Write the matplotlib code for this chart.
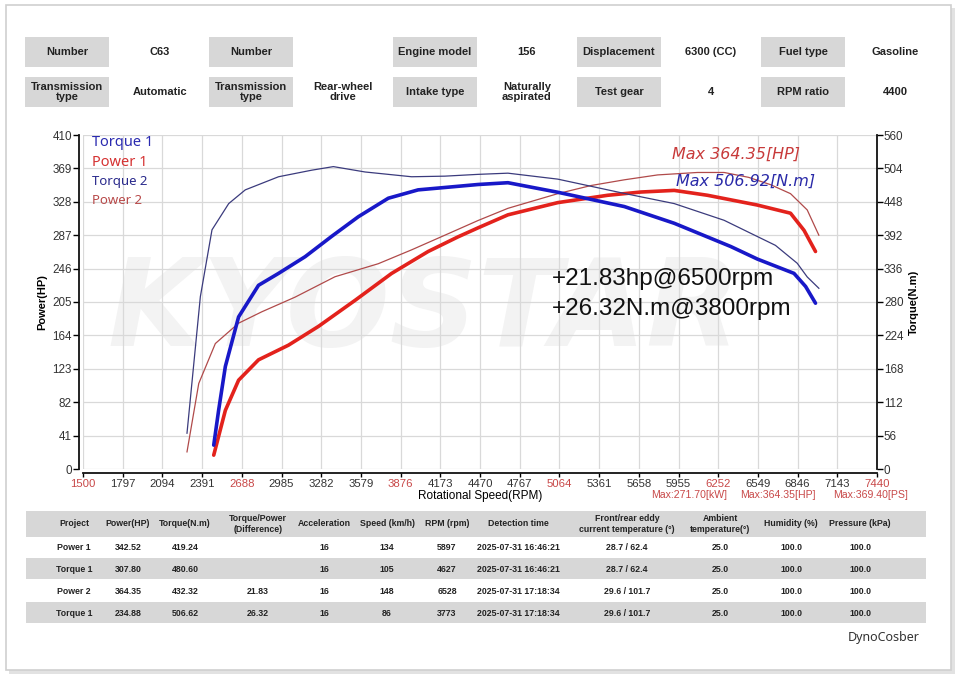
import matplotlib
matplotlib.use("Agg")
import matplotlib.pyplot as plt
from matplotlib.patches import Rectangle
import numpy as np

# ---- curve data ----
torque1_rpm = [2478, 2515, 2565, 2664, 2813, 2963, 3162, 3360, 3560, 3784, 4007, 4207,
               4455, 4679, 5052, 5550, 5923, 6346, 6545, 6819, 6906, 6980]
torque1_nm = [40, 99, 172, 255, 308, 328, 356, 390, 423, 454, 468, 472,
              477, 480, 464, 440, 412, 373, 352, 328, 306, 278]

power1_rpm = [2478, 2565, 2664, 2813, 3037, 3261, 3535, 3808, 4082, 4306, 4455, 4679,
              5052, 5425, 5674, 5923, 6172, 6545, 6793, 6894, 6980]
power1_hp = [17, 72, 109, 134, 152, 175, 207, 240, 267, 285, 296, 312,
             327, 336, 340, 342, 336, 324, 314, 293, 267]

torque2_rpm = [2278, 2378, 2465, 2590, 2714, 2963, 3211, 3373, 3610, 3958, 4207, 4455,
               4679, 5052, 5550, 5923, 6296, 6680, 6843, 6918, 7005]
torque2_nm = [60, 289, 401, 445, 468, 490, 501, 507, 498, 490, 491, 494,
              496, 486, 462, 445, 417, 375, 345, 322, 303]

power2_rpm = [2278, 2366, 2490, 2664, 2838, 3087, 3385, 3709, 3958, 4207, 4455, 4679,
              5052, 5301, 5550, 5799, 6097, 6296, 6480, 6644, 6793, 6918, 7005]
power2_hp = [21, 105, 154, 179, 193, 211, 236, 252, 269, 287, 305, 320,
             338, 348, 355, 361, 364, 364, 358, 349, 338, 318, 287]

x_ticks = [1500 + 297 * i for i in range(21)]
hp_ticks = [41 * i for i in range(11)]
nm_ticks = [56 * i for i in range(11)]

# ---- header info ----
head_keys = [["Number", "Number", "Engine model", "Displacement", "Fuel type"],
             ["Transmission\ntype", "Transmission\ntype", "Intake type", "Test gear", "RPM ratio"]]
head_vals = [["C63", "", "156", "6300 (CC)", "Gasoline"],
             ["Automatic", "Rear-wheel\ndrive", "Naturally\naspirated", "4", "4400"]]

# ---- result table ----
tbl_cols = ["Project", "Power(HP)", "Torque(N.m)", "Torque/Power\n(Difference)", "Acceleration",
            "Speed (km/h)", "RPM (rpm)", "Detection time", "Front/rear eddy\ncurrent temperature (°)",
            "Ambient\ntemperature(°)", "Humidity (%)", "Pressure (kPa)"]
tbl_rows = [
    ["Power 1", "342.52", "419.24", "", "16", "134", "5897", "2025-07-31 16:46:21", "28.7 / 62.4", "25.0", "100.0", "100.0"],
    ["Torque 1", "307.80", "480.60", "", "16", "105", "4627", "2025-07-31 16:46:21", "28.7 / 62.4", "25.0", "100.0", "100.0"],
    ["Power 2", "364.35", "432.32", "21.83", "16", "148", "6528", "2025-07-31 17:18:34", "29.6 / 101.7", "25.0", "100.0", "100.0"],
    ["Torque 1", "234.88", "506.62", "26.32", "16", "86", "3773", "2025-07-31 17:18:34", "29.6 / 101.7", "25.0", "100.0", "100.0"],
]
max_notes = ["Max:271.70[kW]", "Max:364.35[HP]", "Max:369.40[PS]"]

W, H = 960, 679
fig = plt.figure(figsize=(W / 100, H / 100), dpi=100)
fig.patch.set_facecolor("white")


def fx(x):
    return x / W


def fy(y):
    return 1 - y / H


def box(x0, y0, x1, y1, color, z=0, **kw):
    fig.patches.append(Rectangle((fx(x0), fy(y1)), fx(x1) - fx(x0), fy(y0) - fy(y1),
                                 transform=fig.transFigure, facecolor=color, zorder=z, **kw))


# card frame with a soft shadow
box(9, 8, 955, 674, "#e2e2e2", z=-3, edgecolor="none")
box(6, 5, 951, 670, "white", z=-2, edgecolor="#cfcfcf", linewidth=1.2)

# header boxes
bold = dict(family="Liberation Sans", fontweight="bold", fontsize=8, color="#222222",
            ha="center", va="center", linespacing=1.1)
key_x = [25, 209, 393, 577, 761]
val_x = [160, 343, 527, 711, 895]
row_y = [(37, 67), (77, 107)]
for r in range(2):
    y0, y1 = row_y[r]
    for c in range(5):
        box(key_x[c], y0, key_x[c] + 84, y1, "#d7d7d7")
        fig.text(fx(key_x[c] + 42), fy((y0 + y1) / 2), head_keys[r][c], **bold)
        fig.text(fx(val_x[c]), fy((y0 + y1) / 2), head_vals[r][c], **bold)

# main chart
ax = fig.add_axes([fx(83), fy(469), fx(877) - fx(83), fy(135) - fy(469)])
ax2 = ax.twinx()
ax.set_zorder(1)
ax2.set_zorder(2)
ax.patch.set_visible(False)
ax2.patch.set_visible(False)

# spines first (set_position resets the ticks)
for a in (ax, ax2):
    a.spines["top"].set_visible(False)
    for s in ("left", "right", "bottom"):
        a.spines[s].set_color("#111111")
        a.spines[s].set_linewidth(1.3)
ax.spines["left"].set_position(("outward", 3))
ax.spines["bottom"].set_position(("outward", 3))
ax2.spines["left"].set_visible(False)
ax2.spines["bottom"].set_visible(False)
ax.spines["right"].set_visible(False)

ax.set_xlim(1500, 7440)
ax.set_ylim(0, 410)
ax2.set_ylim(0, 560)
ax.set_xticks(x_ticks)
ax.set_yticks(hp_ticks)
ax2.set_yticks(nm_ticks)
ax.grid(True, color="#d9d9d9", linewidth=0.9)

tick_font = "Liberation Sans"
ax.tick_params(axis="x", length=3, width=1, pad=1, labelsize=8.2,
               labelfontfamily=tick_font, labelcolor="#333333")
ax.tick_params(axis="y", length=4, width=1, pad=1, labelsize=8.4,
               labelfontfamily=tick_font, labelcolor="#333333")
ax2.tick_params(axis="y", length=4, width=1, pad=1, labelsize=8.4,
                labelfontfamily=tick_font, labelcolor="#333333")
ax.set_xticklabels([str(v) for v in x_ticks])
for i, lab in enumerate(ax.get_xticklabels()):
    if i % 4 == 0:
        lab.set_color("#c84848")

ax.set_ylabel("Power(HP)", family="Liberation Sans", fontweight="bold", fontsize=8, labelpad=4)
ax2.set_ylabel("Torque(N.m)", family="Liberation Sans", fontweight="bold", fontsize=8, labelpad=4)
ax.set_xlabel("Rotational Speed(RPM)", family="Liberation Sans", fontsize=8.5, labelpad=1)

# faint watermark
ax.text(0.43, 0.47, "KYOSTAR", transform=ax.transAxes, fontsize=88, fontweight="bold",
        style="italic", color="#f3f3f3", ha="center", va="center", zorder=0)

# curves
ax.plot(power2_rpm, power2_hp, color="#b04a4a", linewidth=0.9, zorder=3)
ax.plot(power1_rpm, power1_hp, color="#e3221c", linewidth=2.6, zorder=4, solid_capstyle="round")
ax2.plot(torque2_rpm, torque2_nm, color="#3b3b7d", linewidth=0.9, zorder=3)
ax2.plot(torque1_rpm, torque1_nm, color="#1818c8", linewidth=2.6, zorder=4, solid_capstyle="round")

# legend labels
leg = [("Torque 1", "#2a2ab0", 10.5, 143), ("Power 1", "#d53232", 10.5, 163),
       ("Torque 2", "#2a2a8c", 9.5, 182), ("Power 2", "#b84a4a", 9.5, 200)]
for name, col, sz, yy in leg:
    fig.text(fx(92), fy(yy), name, color=col, fontsize=sz, family="Noto Sans", va="center")

fig.text(fx(672), fy(154), "Max 364.35[HP]", color="#c83a3a", fontsize=11.5,
         style="italic", family="DejaVu Sans", va="center")
fig.text(fx(676), fy(181), "Max 506.92[N.m]", color="#2a2aa8", fontsize=11.5,
         style="italic", family="DejaVu Sans", va="center")
fig.text(fx(552), fy(279), "+21.83hp@6500rpm", color="#111111", fontsize=17.5,
         family="Liberation Sans", va="center")
fig.text(fx(552), fy(309), "+26.32N.m@3800rpm", color="#111111", fontsize=17.5,
         family="Liberation Sans", va="center")

for txt, xx in zip(max_notes, [651, 740, 833]):
    fig.text(fx(xx), fy(495), txt, color="#c84848", fontsize=7.6, family=tick_font, va="center")

# result table
col_x = [74, 128, 185, 258, 324, 387, 447, 518, 627, 720, 791, 860]
box(26, 511, 926, 537, "#d7d7d7")
box(26, 558, 926, 579, "#d7d7d7")
box(26, 602, 926, 623, "#d7d7d7")
tb = dict(family="Liberation Sans", fontweight="bold", fontsize=6.3, color="#222222",
          ha="center", va="center", linespacing=1.15)
for c, name in enumerate(tbl_cols):
    fig.text(fx(col_x[c]), fy(524), name, **tb)
for r, row in enumerate(tbl_rows):
    yy = [547, 569, 592, 614][r]
    for c, v in enumerate(row):
        fig.text(fx(col_x[c]), fy(yy), v, **tb)

fig.text(fx(920), fy(637), "DynoCosber", color="#333333", fontsize=9, family="Noto Sans",
         ha="right", va="center")

fig.savefig("out.png", dpi=100)
